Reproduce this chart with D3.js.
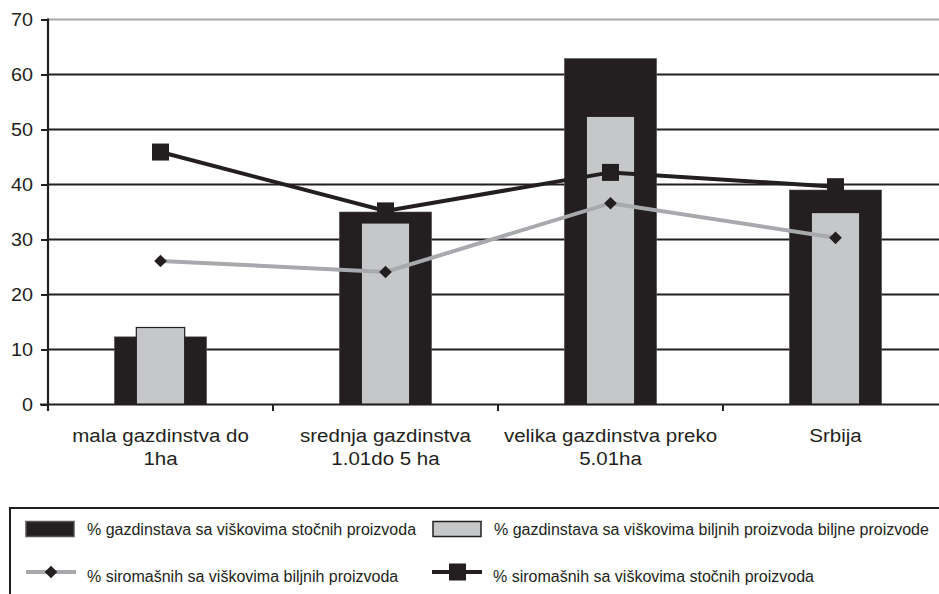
<!DOCTYPE html>
<html>
<head>
<meta charset="utf-8">
<script src="https://cdn.jsdelivr.net/npm/d3@7/dist/d3.min.js"></script>
<style>
  html, body { margin: 0; padding: 0; background: #fff; }
  svg { display: block; font-family: "Liberation Sans", Arial, sans-serif; }
</style>
</head>
<body>
<svg id="chart" width="939" height="594"></svg>
<script>
// ---- data ----
const categories = ["mala gazdinstva do|1ha", "srednja gazdinstva|1.01do 5 ha", "velika gazdinstva preko|5.01ha", "Srbija"];
const livestockHouseholds = [12.3, 35.0, 62.9, 39.0];   // % gazdinstava sa viškovima stočnih proizvoda
const cropHouseholds = [14.0, 33.0, 52.4, 34.9];        // % gazdinstava sa viškovima biljnih proizvoda
const poorCrop = [26.1, 24.1, 36.6, 30.3];              // % siromašnih sa viškovima biljnih proizvoda
const poorLivestock = [45.9, 35.2, 42.2, 39.6];         // % siromašnih sa viškovima stočnih proizvoda
const yTicks = [0, 10, 20, 30, 40, 50, 60, 70];
const legendLabels = [
  "% gazdinstava sa viškovima stočnih proizvoda",
  "% gazdinstava sa viškovima biljnih proizvoda biljne proizvode",
  "% siromašnih sa viškovima biljnih proizvoda",
  "% siromašnih sa viškovima stočnih proizvoda"
];

const DARK = "#231f20", GREY = "#c6c7c8", LINEGREY = "#a7a9ac";

const svg = d3.select("#chart");
const x = d3.scaleBand().domain(categories).range([48, 948]);
const y = d3.scaleLinear().domain([0, 70]).range([404.5, 19.5]);
const W = 939;

// gridlines
svg.append("g").selectAll("line").data(yTicks.filter(d => d > 0)).join("line")
  .attr("x1", 48).attr("x2", W)
  .attr("y1", d => y(d)).attr("y2", d => y(d))
  .attr("stroke", d => d === 70 ? LINEGREY : DARK)
  .attr("stroke-width", 2);

// bars
const bw1 = x.bandwidth() * 0.41, bw2 = x.bandwidth() * 0.215;
svg.append("g").selectAll("rect").data(categories).join("rect")
  .attr("x", d => x(d) + x.bandwidth() / 2 - bw1 / 2)
  .attr("width", bw1)
  .attr("y", (d, i) => y(livestockHouseholds[i]))
  .attr("height", (d, i) => y(0) - y(livestockHouseholds[i]))
  .attr("fill", DARK).attr("stroke", "#555").attr("stroke-width", 0.6);
svg.append("g").selectAll("rect").data(categories).join("rect")
  .attr("x", d => x(d) + x.bandwidth() / 2 - bw2 / 2)
  .attr("width", bw2)
  .attr("y", (d, i) => y(cropHouseholds[i]))
  .attr("height", (d, i) => y(0) - y(cropHouseholds[i]))
  .attr("fill", GREY).attr("stroke", DARK).attr("stroke-width", 1.2);

// axes
const yAxis = d3.axisLeft(y).tickValues(yTicks).tickSize(7).tickFormat("");
const gy = svg.append("g").attr("transform", "translate(48,0)").call(yAxis);
gy.select(".domain").remove();
gy.selectAll(".tick line").attr("stroke", DARK).attr("stroke-width", 2);
svg.append("line").attr("x1", 48).attr("x2", 48).attr("y1", y(70) - 1).attr("y2", 411)
  .attr("stroke", DARK).attr("stroke-width", 2.2);
svg.append("line").attr("x1", 40).attr("x2", W).attr("y1", y(0)).attr("y2", y(0))
  .attr("stroke", DARK).attr("stroke-width", 2);
// x ticks at band boundaries
svg.append("g").selectAll("line").data(categories.slice(1)).join("line")
  .attr("x1", d => x(d)).attr("x2", d => x(d))
  .attr("y1", y(0)).attr("y2", 411)
  .attr("stroke", DARK).attr("stroke-width", 2);

function stretchedText(parent, tx, ty, str, size, sx, anchor) {
  parent.append("text")
    .attr("transform", `translate(${tx},${ty}) scale(${sx},1)`)
    .attr("text-anchor", anchor)
    .attr("font-size", size)
    .attr("fill", DARK)
    .text(str);
}

// y tick labels
const gyl = svg.append("g");
yTicks.forEach(t => stretchedText(gyl, 33, y(t) + 6.5, String(t), 18, 1.1, "end"));

// x labels
const gxl = svg.append("g");
categories.forEach(c => {
  const cx = x(c) + x.bandwidth() / 2;
  c.split("|").forEach((ln, j) => stretchedText(gxl, cx, 442 + j * 23, ln, 19, 1.08, "middle"));
});

// lines
const line = d3.line().x((d, i) => x(categories[i]) + x.bandwidth() / 2).y(d => y(d));
svg.append("path").datum(poorCrop).attr("d", line)
  .attr("fill", "none").attr("stroke", LINEGREY).attr("stroke-width", 4);
svg.append("g").selectAll("path").data(poorCrop).join("path")
  .attr("d", d3.symbol(d3.symbolSquare, 80))
  .attr("transform", (d, i) => `translate(${x(categories[i]) + x.bandwidth() / 2},${y(d)}) rotate(45)`)
  .attr("fill", DARK);
svg.append("path").datum(poorLivestock).attr("d", line)
  .attr("fill", "none").attr("stroke", DARK).attr("stroke-width", 4);
svg.append("g").selectAll("rect").data(poorLivestock).join("rect")
  .attr("x", (d, i) => x(categories[i]) + x.bandwidth() / 2 - 8.5)
  .attr("y", d => y(d) - 8.5)
  .attr("width", 17).attr("height", 17)
  .attr("fill", DARK);

// legend
const lg = svg.append("g");
lg.append("rect").attr("x", 10).attr("y", 508).attr("width", 960).attr("height", 120)
  .attr("fill", "none").attr("stroke", DARK).attr("stroke-width", 2);
const items = [
  { type: "bar", fill: DARK, stroke: "#555", x: 26, y: 529 },
  { type: "bar", fill: GREY, stroke: DARK, x: 433, y: 529 },
  { type: "line", color: LINEGREY, marker: "diamond", x: 26, y: 572 },
  { type: "line", color: DARK, marker: "square", x: 432, y: 572 }
];
items.forEach((it, i) => {
  if (it.type === "bar") {
    lg.append("rect").attr("x", it.x).attr("y", it.y - 7.5).attr("width", 48).attr("height", 15)
      .attr("fill", it.fill).attr("stroke", it.stroke).attr("stroke-width", 1.5);
  } else {
    lg.append("line").attr("x1", it.x).attr("x2", it.x + 50).attr("y1", it.y).attr("y2", it.y)
      .attr("stroke", it.color).attr("stroke-width", 4);
    if (it.marker === "diamond") {
      lg.append("path").attr("d", d3.symbol(d3.symbolSquare, 80))
        .attr("transform", `translate(${it.x + 25},${it.y}) rotate(45)`).attr("fill", DARK);
    } else {
      lg.append("rect").attr("x", it.x + 17).attr("y", it.y - 8.5).attr("width", 17).attr("height", 17).attr("fill", DARK);
    }
  }
  lg.append("text").attr("x", it.x + 61).attr("y", it.y + (it.type === "bar" ? 6 : 10))
    .attr("font-size", 16).attr("fill", DARK).text(legendLabels[i]);
});
</script>
</body>
</html>
